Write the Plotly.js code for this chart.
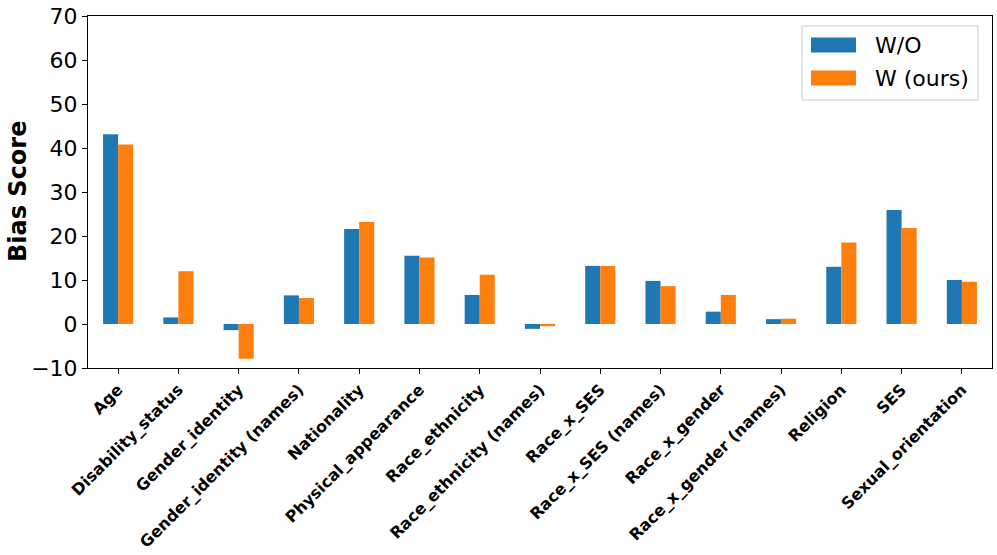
<!DOCTYPE html>
<html>
<head>
<meta charset="utf-8">
<script src="https://cdn.plot.ly/plotly-3.0.1.min.js"></script>
<style>html,body{margin:0;padding:0;background:#fff;}#chart{width:997px;height:555px;}</style>
</head>
<body>
<div id="chart"></div>
<script>
const categories = ["Age","Disability_status","Gender_identity","Gender_identity (names)","Nationality","Physical_appearance","Race_ethnicity","Race_ethnicity (names)","Race_x_SES","Race_x_SES (names)","Race_x_gender","Race_x_gender (names)","Religion","SES","Sexual_orientation"];
const woValues = [43.1, 1.5, -1.4, 6.5, 21.6, 15.5, 6.6, -1.1, 13.2, 9.8, 2.8, 1.1, 13.0, 25.9, 10.0];
const wValues = [40.8, 12.0, -7.9, 5.9, 23.2, 15.1, 11.2, -0.5, 13.2, 8.6, 6.6, 1.2, 18.5, 21.8, 9.6];
const seriesNames = ["W/O", "W (ours)"];
const seriesColors = ["#1f77b4", "#ff7f0e"];
const yTicks = [-10, 0, 10, 20, 30, 40, 50, 60, 70];
const yTickLabels = ["\u221210", "0", "10", "20", "30", "40", "50", "60", "70"];
const yTitle = "Bias Score";

const font = "DejaVu Sans, sans-serif";
const W = 997, H = 555;
const M = {l: 88, r: 5, t: 16, b: 187};
const pw = W - M.l - M.r, ph = H - M.t - M.b;
const px = v => (v - M.l) / pw;
const py = v => (H - M.b - v) / ph;

const data = [
  {type: "bar", name: seriesNames[0], x: categories, y: woValues, marker: {color: seriesColors[0]}},
  {type: "bar", name: seriesNames[1], x: categories, y: wValues, marker: {color: seriesColors[1]}}
];

// manual matplotlib-style legend
const shapes = [
  {type: "rect", xref: "paper", yref: "paper", x0: px(802), x1: px(978), y0: py(100), y1: py(26),
   line: {color: "#cccccc", width: 1}, fillcolor: "rgba(255,255,255,0.8)", layer: "above"}
];
const annotations = [];
seriesNames.forEach((n, i) => {
  const cy = 45 + i * 33;
  shapes.push({type: "rect", xref: "paper", yref: "paper", x0: px(811), x1: px(856), y0: py(cy + 7.5), y1: py(cy - 7.5),
    line: {width: 0}, fillcolor: seriesColors[i], layer: "above"});
  annotations.push({xref: "paper", yref: "paper", x: px(873), y: py(cy), xanchor: "left", yanchor: "middle",
    text: n, showarrow: false, font: {size: 22, family: font, color: "#000"}});
});
annotations.push({xref: "paper", yref: "paper", x: px(18), y: 0.5, xanchor: "center", yanchor: "middle",
  text: "<b>" + yTitle + "</b>", textangle: -90, showarrow: false, font: {size: 24, family: font, color: "#000"}});

const layout = {
  width: W, height: H,
  margin: M,
  paper_bgcolor: "#fff", plot_bgcolor: "#fff",
  barmode: "group", bargap: 0.5, bargroupgap: 0,
  font: {family: font, color: "#000"},
  showlegend: false,
  shapes: shapes, annotations: annotations,
  xaxis: {
    type: "category", range: [-0.5, 14.5], tickangle: -45,
    tickfont: {size: 16, family: font, weight: "bold"},
    ticks: "outside", ticklen: 5, tickcolor: "#000", showline: true, linecolor: "#000", linewidth: 1, mirror: true, showgrid: false, zeroline: false
  },
  yaxis: {
    range: [-10, 70], tickvals: yTicks, ticktext: yTickLabels,
    tickfont: {size: 22, family: font},
    ticks: "outside", ticklen: 5, tickcolor: "#000", showline: true, linecolor: "#000", linewidth: 1, mirror: true, showgrid: false, zeroline: false
  }
};
Plotly.newPlot("chart", data, layout, {displayModeBar: false, staticPlot: true});
</script>
</body>
</html>
